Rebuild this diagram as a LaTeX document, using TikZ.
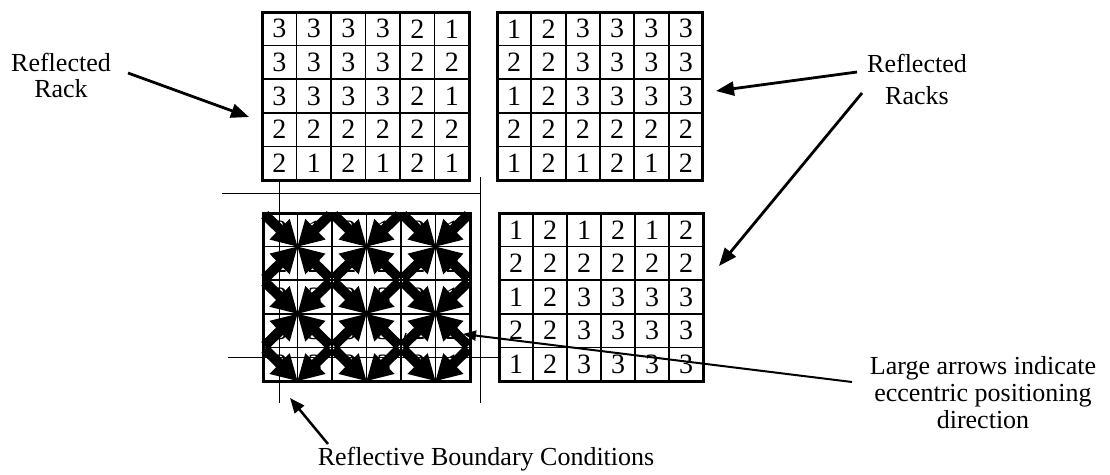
\documentclass[tikz,border=0pt]{standalone}
\usepackage{fontspec}
\setmainfont{Liberation Serif}
\usetikzlibrary{arrows.meta,calc}
\newcommand\drawrack[5]{%
 \begin{scope}[shift={(#2,#3)}]
  \foreach \vals [count=\r] in {#5}{
    \foreach \v [count=\c] in \vals{
      \node[digit] (#1-\r-\c) at ({(\c-0.5)*#4},{(\r-0.5)*33.6}) {\v};
    }
  }
  \foreach \c in {1,...,5}{\draw[gridin] ({\c*#4},0) -- ({\c*#4},168);}
  \foreach \r in {1,...,4}{\draw[gridin] (0,{\r*33.6}) -- ({6*#4},{\r*33.6});}
  \draw[gridout] (0,0) rectangle ({6*#4},168);
 \end{scope}}
\newcommand\fatarr[2]{%
 \coordinate (fa-hb) at ($(#2)!25pt!(#1)$);
 \coordinate (fa-tl) at ($(#1)!2.5pt!(#2)$);
 \fill[fatfill] (#2) -- ($(fa-hb)!14.5pt!90:(#2)$) -- ($(fa-hb)!5pt!90:(#2)$)
   -- ($(fa-tl)!5pt!90:(#2)$) -- ($(fa-tl)!5pt!-90:(#2)$)
   -- ($(fa-hb)!5pt!-90:(#2)$) -- ($(fa-hb)!14.5pt!-90:(#2)$) -- cycle;}
\begin{document}
\begin{tikzpicture}[x=1pt,y=-1pt,
  gridout/.style={line width=3pt},
  gridin/.style={line width=1.7pt},
  digit/.style={inner sep=0pt,font=\fontsize{28}{30}\selectfont},
  lbl/.style={inner sep=0pt,align=center},
  bound/.style={line width=1.3pt},
  ptr/.style={line width=2.8pt,-{Triangle[length=18pt,width=14pt]}},
  fatfill/.style={fill=black},
  bcurve/.style={line width=1.5pt}]
\useasboundingbox (0,0) rectangle (1110,474);

% reflective boundary lines
\coordinate (hA1) at (222,193.3); \coordinate (hA2) at (480,193.3);
\coordinate (hB1) at (228,357.5); \coordinate (hB2) at (498,357.5);
\coordinate (vA1) at (279.3,180); \coordinate (vA2) at (279.3,403);
\coordinate (vB1) at (480.5,177); \coordinate (vB2) at (480.5,403);
\draw[bound] (hA1) -- (hA2);
\draw[bound] (vA1) -- (vA2);
\draw[bound] (vB1) -- (vB2);

% racks
\drawrack{tl}{262}{12}{34.5}{{3,3,3,3,2,1},{3,3,3,3,2,2},{3,3,3,3,2,1},{2,2,2,2,2,2},{2,1,2,1,2,1}}
\drawrack{tr}{497}{12}{34.33}{{1,2,3,3,3,3},{2,2,3,3,3,3},{1,2,3,3,3,3},{2,2,2,2,2,2},{1,2,1,2,1,2}}
\drawrack{br}{499}{213}{34}{{1,2,1,2,1,2},{2,2,2,2,2,2},{1,2,3,3,3,3},{2,2,3,3,3,3},{1,2,3,3,3,3}}
\drawrack{bl}{263}{213}{34.5}{{2,1,2,1,2,1},{2,2,2,2,2,2},{3,3,3,3,2,1},{3,3,3,3,2,2},{3,3,3,3,2,1}}

% grid points of the central rack
\foreach \i in {0,...,6}{\foreach \j in {0,...,5}{
  \coordinate (g-\i-\j) at ({263+\i*34.5},{213+\j*33.6});}}

% eccentric positioning arrows
\foreach \k in {0,1,2}{
  \pgfmathtruncatemacro\ka{2*\k}
  \pgfmathtruncatemacro\kb{2*\k+1}
  \pgfmathtruncatemacro\kc{2*\k+2}
  \fatarr{g-\ka-0}{g-\kb-1}
  \fatarr{g-\kc-0}{g-\kb-1}
  \fatarr{g-\ka-2}{g-\kb-1}
  \fatarr{g-\kc-2}{g-\kb-1}
  \fatarr{g-\ka-2}{g-\kb-3}
  \fatarr{g-\kc-2}{g-\kb-3}
  \fatarr{g-\ka-4}{g-\kb-3}
  \fatarr{g-\kc-4}{g-\kb-3}
  \fatarr{g-\ka-4}{g-\kb-5}
  \fatarr{g-\kc-4}{g-\kb-5}
}
\draw[bound] (hB1) -- (hB2);
\draw[bcurve] (266,340) .. controls (265,354) and (272,362) .. (285,364);
\draw[bcurve] (406,333) .. controls (400,350) and (410,368) .. (425,372);

% labels
\node[lbl,font=\fontsize{26}{26}\selectfont] (lblL) at (61,75.5) {Reflected\\Rack};
\node[lbl,font=\fontsize{26}{32}\selectfont] (lblR) at (917,79) {Reflected\\Racks};
\node[lbl,font=\fontsize{26}{27}\selectfont] (lblE) at (983,393) {Large arrows indicate\\eccentric positioning\\direction};
\node[lbl,anchor=base,font=\fontsize{26}{27}\selectfont] (lblB) at (486,465) {Reflective Boundary Conditions};

% pointers
\coordinate (pL1) at (128,73); \coordinate (pL2) at (249,117);
\coordinate (pR1) at (857,72); \coordinate (pR2) at (716,91);
\coordinate (pR3) at (862,93); \coordinate (pR4) at (719,266);
\coordinate (pE1) at (852,382); \coordinate (pE2) at (463,334);
\coordinate (pB1) at (328,444); \coordinate (pB2) at (290,398);
\draw[ptr] (pL1) -- (pL2);
\draw[ptr] (pR1) -- (pR2);
\draw[ptr] (pR3) -- (pR4);
\draw[line width=2pt,-{Triangle[length=13pt,width=10pt]}] (pE1) -- (pE2);
\draw[line width=2.5pt,-{Triangle[length=15pt,width=12pt]}] (pB1) -- (pB2);
\end{tikzpicture}
\end{document}
